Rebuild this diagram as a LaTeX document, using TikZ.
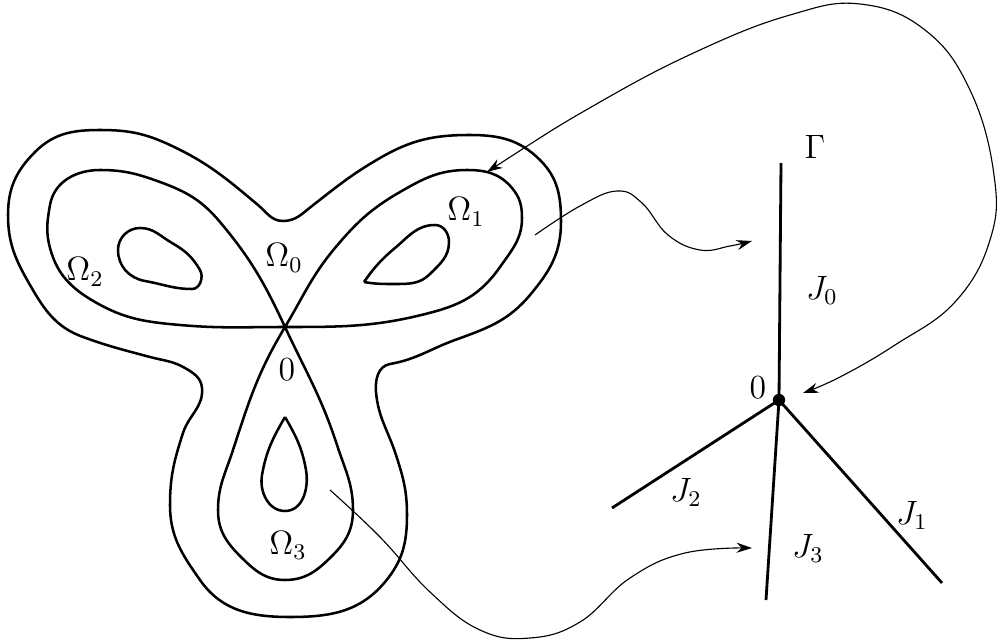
\documentclass[tikz,border=0pt]{standalone}
\usepackage{amsmath, amssymb}
\usepackage{tikz}
\usetikzlibrary{arrows.meta, positioning, calc}

\begin{document}
\begin{tikzpicture}[x=0.0125cm, y=-0.0125cm,
    level/.style={line width=0.9pt, line join=round},
    branch/.style={line width=1pt},
    conn/.style={line width=0.4pt, -{Stealth[length=5.5pt, width=3.6pt]}},
    lbl/.style={inner sep=1pt, font=\large}]
  \useasboundingbox (0,0) rectangle (997,643);
  % --- level sets on the left ---
  \coordinate (o) at (285,327);
  % outer curve
  \draw[level] (283,221) to[out=0,in=218] (312,206) to[out=38,in=210] (380,158)
    to[out=30,in=180] (470,135) to[out=0,in=135] (540,160)
    to[out=-45,in=90] (561,222) to[out=-90,in=50] (530,295)
    to[out=-130,in=20] (455,340) to[out=-160,in=10] (390,364)
    to[out=-170,in=95] (376,392) to[out=-85,in=108] (396,455)
    to[out=-72,in=90] (407,515) to[out=-90,in=50] (385,582)
    to[out=-130,in=0] (290,617) to[out=180,in=-55] (200,580)
    to[out=125,in=-90] (170,505) to[out=90,in=-108] (183,433)
    to[out=72,in=-85] (202,388) to[out=95,in=-30] (185,368)
    to[out=150,in=-15] (150,357) to[out=165,in=-20] (83,337)
    to[out=160,in=-60] (30,285) to[out=120,in=-90] (8,215)
    to[out=90,in=-135] (35,152) to[out=45,in=180] (100,130)
    to[out=0,in=155] (170,145) to[out=-25,in=140] (258,205)
    to[out=-40,in=180] (283,221);
  % the three loops through 0
  \draw[level] (o) to[out=180,in=-5] (180,325) to[out=175,in=-30] (95,302)
    to[out=150,in=-75] (50,248) to[out=105,in=-100] (50,205)
    to[out=80,in=180] (100,170) to[out=0,in=160] (160,182)
    to[out=-20,in=130] (220,222) to[out=-50,in=115] (o);
  \draw[level] (o) to[out=59,in=-130] (335,248) to[out=50,in=-150] (400,192)
    to[out=30,in=180] (467,170) to[out=0,in=130] (512,188)
    to[out=-50,in=90] (522,218) to[out=-90,in=55] (500,267)
    to[out=-125,in=15] (433,312) to[out=-165,in=0] (o);
  \draw[level] (o) to[out=239,in=72] (233,450) to[out=252,in=90] (218,510)
    to[out=270,in=135] (240,556) to[out=-45,in=180] (285,580)
    to[out=0,in=-135] (332,556) to[out=45,in=-90] (353,510)
    to[out=90,in=-72] (337,445) to[out=108,in=-65] (o);
  % inner curves
  \draw[level] (118,250) to[out=90,in=180] (140,228) to[out=0,in=150] (172,243)
    to[out=-30,in=120] (200,270) to[out=-60,in=0] (192,289)
    to[out=180,in=-10] (145,281) to[out=170,in=-90] (118,250);
  \draw[level] (364,282) to[out=55,in=-140] (395,248) to[out=40,in=180] (435,225)
    to[out=0,in=90] (449,242) to[out=-90,in=45] (430,274)
    to[out=-135,in=0] (395,284) to[out=180,in=-10] (364,282);
  \draw[level] (285,417) to[out=-60,in=100] (306,470) to[out=-80,in=0] (285,511)
    to[out=180,in=-100] (262,475) to[out=80,in=-120] (285,417);
  \node[lbl] (om2) at (85,272) {$\Omega_2$};
  \node[lbl] (om0) at (284,258) {$\Omega_0$};
  \node[lbl] (om1) at (466,212) {$\Omega_1$};
  \node[lbl] (zero) at (287,370) {$0$};
  \node[lbl] (om3) at (288,545) {$\Omega_3$};
  % --- the graph Gamma ---
  \node[circle, fill, inner sep=0pt, minimum size=4.4pt] (v) at (779,400) {};
  \coordinate (j0) at (781,163);
  \coordinate (j1) at (942,583);
  \coordinate (j2) at (612,508);
  \coordinate (j3) at (766,600);
  \draw[branch] (v.center) -- (j0);
  \draw[branch] (v.center) -- (j1);
  \draw[branch] (v.center) -- (j2);
  \draw[branch] (v.center) -- (j3);
  \node[lbl] (gam) at (815,147) {$\Gamma$};
  \node[lbl] (vz) at (758,388) {$0$};
  \node[lbl] (J0) at (822,290) {$J_0$};
  \node[lbl] (J1) at (912,515) {$J_1$};
  \node[lbl] (J2) at (686,492) {$J_2$};
  \node[lbl] (J3) at (808,548) {$J_3$};
  % --- arrows ---
  \coordinate (s1) at (535,235);
  \coordinate (e1) at (752,241);
  \coordinate (s2) at (330,490);
  \coordinate (e2) at (752,548);
  \coordinate (c1) at (487,172);
  \coordinate (c2) at (803,393);
  \draw[conn] plot[smooth, tension=0.7] coordinates {
    (s1) (580,206) (617,191) (642,203) (668,235) (700,250) (730,246) (e1)};
  \draw[conn] plot[smooth, tension=0.7] coordinates {
    (s2) (380,537) (430,592) (480,630) (530,638) (580,622) (630,578) (685,553) (e2)};
  \draw[conn, {Stealth[length=5.5pt, width=3.6pt]}-{Stealth[length=5.5pt, width=3.6pt]}]
    plot[smooth, tension=0.7] coordinates {
    (c1) (600,102) (700,50) (790,15) (860,4) (925,30) (970,90) (994,175)
    (990,240) (955,302) (895,345) (840,377) (c2)};
\end{tikzpicture}
\end{document}
